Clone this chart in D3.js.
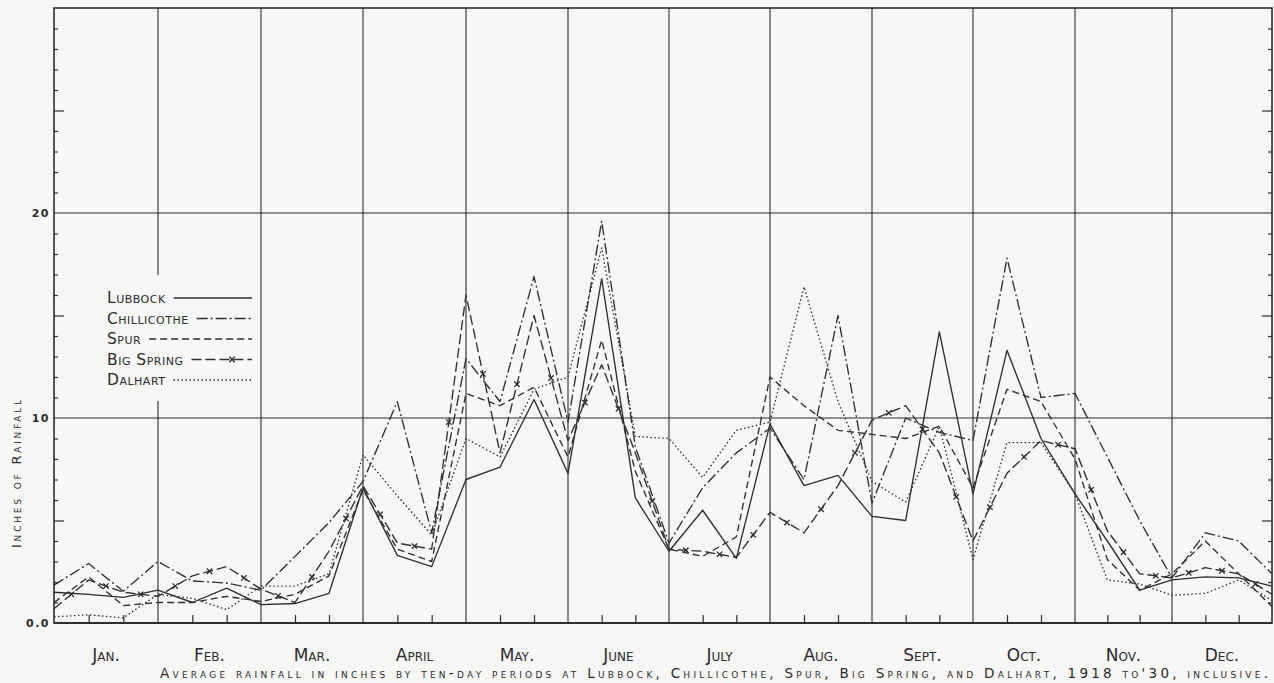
<!DOCTYPE html>
<html>
<head>
<meta charset="utf-8">
<script src="https://cdnjs.cloudflare.com/ajax/libs/d3/7.8.5/d3.min.js"></script>
<style>
	body { margin: 0; background: #f7f7f5; }
	text { font-family: "DejaVu Sans", sans-serif; fill: #2b2b2b; }
	.sc { font-variant: small-caps; }
</style>
</head>
<body>
<div id="visualisation"></div>
<script>

// Data : average rainfall by ten-day periods (37 readings, Jan 1 -> Dec 31)

var months = ["Jan.", "Feb.", "Mar.", "April", "May.", "June", "July", "Aug.", "Sept.", "Oct.", "Nov.", "Dec."];
var yTicks = [0, 10, 20];
var yTickLabels = ["0.0", "10", "20"];
var stations = ["Lubbock", "Chillicothe", "Spur", "Big Spring", "Dalhart"];

var lubbock     = [1.5, 1.4, 1.25, 1.6, 1.0, 1.7, 0.9, 0.95, 1.45, 6.6, 3.3, 2.75, 7.0, 7.6, 10.9, 7.3, 16.8, 6.1, 3.5, 5.5, 3.15, 9.7, 6.7, 7.2, 5.2, 5.0, 14.2, 6.3, 13.3, 9.0, 6.3, 4.0, 1.6, 2.1, 2.25, 2.2, 1.8];
var chillicothe = [1.85, 2.9, 1.55, 3.0, 2.05, 1.95, 1.6, 3.25, 4.9, 6.9, 10.8, 4.4, 12.9, 10.8, 16.9, 9.8, 19.6, 8.6, 3.9, 6.6, 8.3, 9.5, 7.0, 15.0, 5.85, 10.0, 9.3, 8.9, 17.8, 11.0, 11.2, 8.1, 5.0, 2.2, 4.4, 4.0, 2.4];
var spur        = [1.0, 2.25, 0.85, 1.0, 1.0, 1.3, 1.05, 1.4, 2.3, 6.5, 3.6, 3.0, 11.2, 10.6, 11.5, 8.1, 13.8, 7.4, 3.6, 3.25, 4.2, 12.0, 10.6, 9.4, 9.2, 9.0, 9.6, 6.6, 11.4, 10.8, 8.0, 3.1, 1.6, 2.4, 4.0, 2.4, 0.8];
var bigSpring   = [0.7, 2.1, 1.5, 1.3, 2.3, 2.75, 1.65, 1.0, 3.5, 6.7, 3.9, 3.6, 16.0, 8.3, 15.0, 8.9, 12.6, 8.3, 3.6, 3.5, 3.2, 5.4, 4.4, 6.7, 9.9, 10.6, 8.3, 4.0, 7.3, 8.9, 8.5, 4.5, 2.4, 2.2, 2.7, 2.4, 1.4];
var dalhart     = [0.3, 0.4, 0.25, 1.4, 1.2, 0.65, 1.8, 1.8, 2.4, 8.2, 6.2, 4.3, 9.0, 8.1, 11.4, 12.0, 18.3, 9.1, 9.0, 7.1, 9.4, 9.8, 16.4, 10.8, 6.9, 5.9, 9.6, 3.1, 8.8, 8.8, 6.3, 2.1, 1.9, 1.35, 1.45, 2.1, 1.1];

var series = [lubbock, chillicothe, spur, bigSpring, dalhart];
var dashes = [null, "11,3,2,3", "7,4", "10,4", "1.5,2.5"];

var ink = "#2e2e2e";
var paper = "#f7f7f5";

//Création du svg
var svg = d3.select("#visualisation")
	.append("svg")
	.attr("width", 1274)
	.attr("height", 683);

// scales : month boundaries are hand drawn, so the x scale is polylinear
var x = d3.scaleLinear()
	.domain(d3.range(0, 37, 3))
	.range([54, 158, 261, 363, 466, 568, 669, 770, 872, 973, 1075, 1172, 1272]);

var y = d3.scaleLinear()
	.domain([0, 30])
	.range([623, 8]);

var gridGroup = svg.append("g");
var lineGroup = svg.append("g");
var legendGroup = svg.append("g");
var textGroup = svg.append("g");


// grid : month lines and 10 / 20 inch lines
gridGroup.selectAll(".vline")
	.data(d3.range(3, 36, 3))
	.enter()
		.append("line")
		.attr("x1", function(d){return x(d);})
		.attr("x2", function(d){return x(d);})
		.attr("y1", y(0))
		.attr("y2", y(30))
		.attr("stroke", ink)
		.attr("stroke-width", 1.1);

gridGroup.selectAll(".hline")
	.data([10, 20])
	.enter()
		.append("line")
		.attr("x1", x(0))
		.attr("x2", x(36))
		.attr("y1", function(d){return y(d);})
		.attr("y2", function(d){return y(d);})
		.attr("stroke", ink)
		.attr("stroke-width", 1.2);

gridGroup.append("rect")
	.attr("x", x(0))
	.attr("y", y(30))
	.attr("width", x(36) - x(0))
	.attr("height", y(0) - y(30))
	.attr("fill", "none")
	.attr("stroke", ink)
	.attr("stroke-width", 1.6);

// bottom axis a little heavier
gridGroup.append("line")
	.attr("x1", x(0)).attr("x2", x(36))
	.attr("y1", y(0)).attr("y2", y(0))
	.attr("stroke", ink)
	.attr("stroke-width", 2.2);

// ten-day ticks
var tenDays = d3.range(1, 36).filter(function(d){return d % 3 != 0;});
gridGroup.append("g")
	.attr("transform", "translate(0," + y(0) + ")")
	.call(d3.axisBottom(x).tickValues(tenDays).tickSize(-8).tickFormat(""))
	.call(function(g){ g.select(".domain").remove(); g.selectAll("line").attr("stroke", ink).attr("stroke-width", 1.2); });

// inch ticks, left and right
var minor = d3.range(1, 30).filter(function(d){return d % 5 != 0;});
var fives = [5, 15, 25];

drawTicks(d3.axisRight(y), x(0), minor, 4);
drawTicks(d3.axisRight(y), x(0), fives, 10);
drawTicks(d3.axisLeft(y), x(36), minor, 4);
drawTicks(d3.axisLeft(y), x(36), fives, 10);


// the five stations
var line = d3.line()
	.x(function(d, i){return x(i);})
	.y(function(d){return y(d);});

lineGroup.selectAll(".serie")
	.data(series)
	.enter()
		.append("path")
		.attr("class", "serie")
		.attr("d", function(d){return line(d);})
		.attr("fill", "none")
		.attr("stroke", ink)
		.attr("stroke-width", 1.35)
		.attr("stroke-linejoin", "round")
		.attr("stroke-dasharray", function(d, i){return dashes[i];});

// Big Spring gets an x on every segment
var crosses = d3.range(bigSpring.length - 1).map(function(i)
	{
		return {"x" : (x(i) + x(i + 1)) / 2, "y" : (y(bigSpring[i]) + y(bigSpring[i + 1])) / 2};
	});

lineGroup.selectAll(".cross")
	.data(crosses)
	.enter()
		.append("path")
		.attr("class", "cross")
		.attr("d", function(d){return cross(d.x, d.y, 2.7);})
		.attr("stroke", ink)
		.attr("stroke-width", 1.3);


// legend (hides the month line behind it)
legendGroup.append("rect")
	.attr("x", 100)
	.attr("y", 275)
	.attr("width", 160)
	.attr("height", 126)
	.attr("fill", paper);

var legend = legendGroup.selectAll(".legend")
	.data(stations)
	.enter()
		.append("g")
		.attr("class", "legend")
		.attr("transform", function(d, i){return "translate(107," + (303 + i * 20.5) + ")";});

legend.append("text")
	.attr("class", "sc")
	.attr("font-size", 15.5)
	.attr("letter-spacing", 0.5)
	.text(function(d){return d;});

legend.append("line")
	.attr("x1", function(){return this.parentNode.querySelector("text").getComputedTextLength() + 8;})
	.attr("x2", 145)
	.attr("y1", -5)
	.attr("y2", -5)
	.attr("stroke", ink)
	.attr("stroke-width", 1.35)
	.attr("stroke-dasharray", function(d, i){return dashes[i];});

legend.filter(function(d){return d == "Big Spring";})
	.append("path")
	.attr("d", cross(125, -5, 2.7))
	.attr("stroke", ink)
	.attr("stroke-width", 1.3);


// texts
textGroup.selectAll(".ylab")
	.data(yTicks)
	.enter()
		.append("text")
		.attr("x", 50)
		.attr("y", function(d){return y(d) + 4;})
		.attr("text-anchor", "end")
		.attr("font-size", 11)
		.attr("font-weight", "bold")
		.attr("letter-spacing", 1.5)
		.text(function(d, i){return yTickLabels[i];});

textGroup.append("text")
	.attr("class", "sc")
	.attr("transform", "translate(21,474) rotate(-90)")
	.attr("text-anchor", "middle")
	.attr("font-size", 13)
	.attr("textLength", 148)
	.attr("lengthAdjust", "spacing")
	.text("Inches of Rainfall");

textGroup.selectAll(".month")
	.data(months)
	.enter()
		.append("text")
		.attr("class", "sc")
		.attr("x", function(d, i){return x(i * 3 + 1.5);})
		.attr("y", 661)
		.attr("text-anchor", "middle")
		.attr("font-size", 17)
		.text(function(d){return d;});

textGroup.append("text")
	.attr("class", "sc")
	.attr("x", 160)
	.attr("y", 678)
	.attr("font-size", 13.5)
	.attr("textLength", 1108)
	.attr("lengthAdjust", "spacing")
	.text("Average rainfall in inches by ten-day periods at Lubbock, Chillicothe, Spur, Big Spring, and Dalhart, 1918 to'30, inclusive.");



function drawTicks(axis, xPos, values, size)
{
	gridGroup.append("g")
		.attr("transform", "translate(" + xPos + ",0)")
		.call(axis.tickValues(values).tickSize(size).tickFormat(""))
		.call(function(g)
			{
				g.select(".domain").remove();
				g.selectAll("line").attr("stroke", ink).attr("stroke-width", 1.2);
			});
}

function cross(cx, cy, r)
{
	return "M" + (cx - r) + "," + (cy - r) + "L" + (cx + r) + "," + (cy + r) + "M" + (cx - r) + "," + (cy + r) + "L" + (cx + r) + "," + (cy - r);
}

</script>
</body>
</html>
